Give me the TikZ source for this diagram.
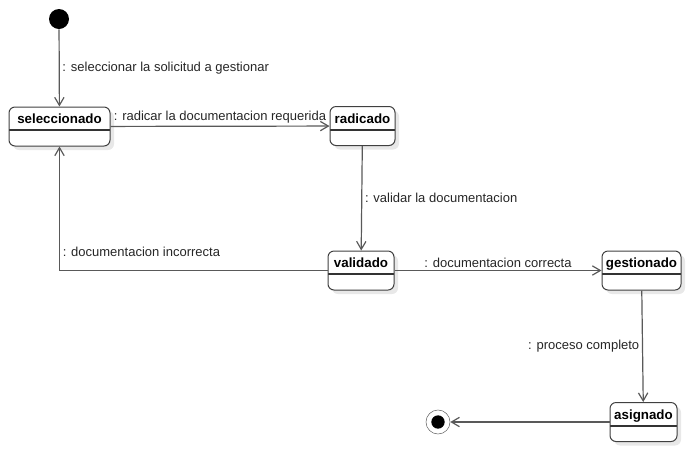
\documentclass[tikz,border=0pt]{standalone}
\usepackage{fontspec}
\setmainfont{Liberation Sans}
\usetikzlibrary{arrows.meta,shadows}
\newcommand{\statefont}{\fontsize{10}{12}\selectfont\bfseries}
\newcommand{\labelfont}{\fontsize{9.75}{11.5}\selectfont}
\newcommand{\umlinitial}[2] {\node at (#1) (#2) [circle, fill=black, minimum size=15pt, inner sep=0pt] {};}
\newcommand{\umlfinal}[2] {\node at (#1) (#2) [circle, draw=black!60, fill=white, minimum size=18pt, inner sep=0pt] {}; \fill (#2.center) circle (5pt);}
\newcommand{\umlstate}[3] {\node at (#1) (#2) [statebox, minimum width=#3] {#2};}
\newcommand{\umltransition}[3] {\draw [trans] (#1) -- (#2) node [midway, above] {#3};}
\newcommand{\umlrighttransition}[3] {\draw [trans] (#1) -- (#2) node [midway, right] {#3};}
\newcommand{\umllefttransition}[3] {\draw [trans] (#1) -- (#2) node [midway, left] {#3};}
\newcommand{\umlcornertransition}[3] {\draw [trans] (#1) -| (#2) node [pos=0.5, above right, yshift=8pt] {#3};}

\begin{document}
\begin{tikzpicture}[x=0.75pt, y=-0.75pt,
  statebox/.style={rectangle, draw=black!75, line width=0.75pt, rounded corners=4.5pt, fill=white,
    anchor=north, font=\statefont, inner xsep=2pt, inner ysep=0pt, text height=12.5pt, text depth=16.75pt,
    drop shadow={fill=black!9, shadow xshift=3pt, shadow yshift=-3pt, opacity=1},
    path picture={\draw [black!80, line width=1.5pt] ([yshift=-17.25pt]path picture bounding box.north west) -- ([yshift=-17.25pt]path picture bounding box.north east);}},
  trans/.style={-{Straight Barb[length=6pt, width=7pt]}, draw=black!65, line width=0.9pt,
    every node/.style={font=\labelfont, text=black!85, inner sep=2pt}}]
\useasboundingbox (0,0) rectangle (691,451);

\umlinitial {59,19} {start};
\umlstate {59.5,106.5} {seleccionado} {75.75pt};
\umlstate {362.5,106} {radicado} {48.75pt};
\umlstate {361,250.5} {validado} {49.5pt};
\umlstate {641.5,250.5} {gestionado} {59.25pt};
\umlstate {643.5,402} {asignado} {50.25pt};
\umlfinal {438,422} {end};

\umlrighttransition{start}{seleccionado}{: seleccionar la solicitud a gestionar};
\umltransition{seleccionado}{radicado}{: radicar la documentacion requerida};
\umlrighttransition{radicado}{validado}{: validar la documentacion};
\umltransition{validado}{gestionado}{: documentacion correcta};
\umlcornertransition{validado.west}{seleccionado}{: documentacion incorrecta};
\umllefttransition{gestionado}{asignado}{: proceso completo};
\umltransition{asignado}{end}{};

\end{tikzpicture}
\end{document}
